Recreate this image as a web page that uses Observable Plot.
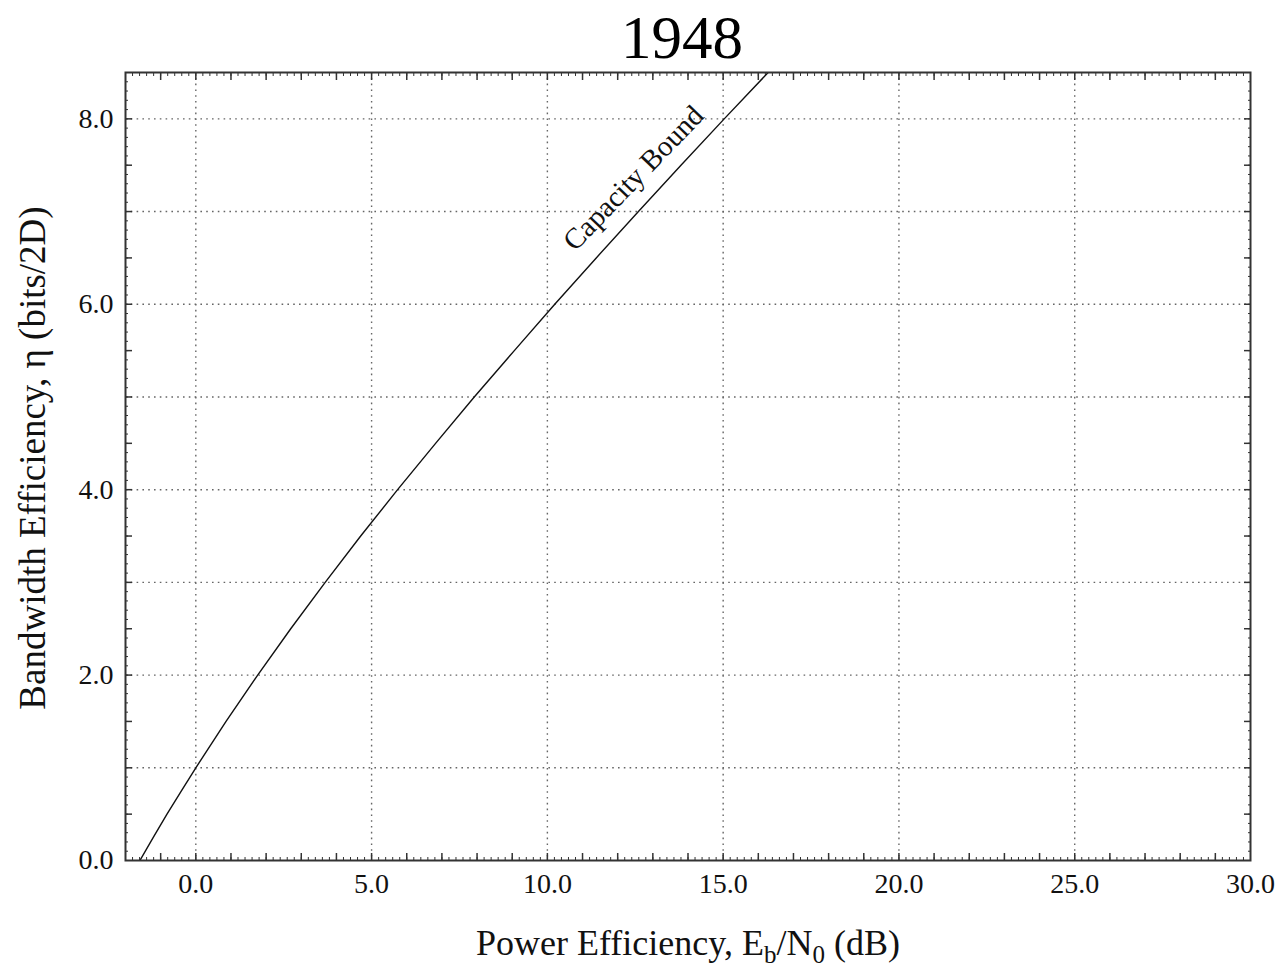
<!DOCTYPE html>
<html>
<head>
<meta charset="utf-8">
<script src="https://cdn.jsdelivr.net/npm/d3@7"></script>
<script src="https://cdn.jsdelivr.net/npm/@observablehq/plot@0.6"></script>
<style>
  html, body { margin: 0; padding: 0; background: #fff; }
  svg { display: block; }
</style>
</head>
<body>
<div id="chart"></div>
<script>
// Capacity bound: spectral efficiency (bits/2D) vs Eb/N0 (dB)
const etaValues = [0, 0.25, 0.5, 0.75, 1, 1.5, 2, 2.5, 3, 3.5, 4, 4.5, 5, 5.5, 6, 6.5, 7, 7.5, 8, 8.5];
const ebn0Values = [-1.59, -1.21, -0.82, -0.41, 0, 0.86, 1.76, 2.70, 3.68, 4.69, 5.74, 6.82, 7.92, 9.06, 10.21, 11.39, 12.59, 13.80, 15.03, 16.28];

const xLabelTicks = [0, 5, 10, 15, 20, 25, 30];
const yLabelTicks = [0, 2, 4, 6, 8];
const xGridTicks = [0, 5, 10, 15, 20, 25];
const yGridTicks = [1, 2, 3, 4, 5, 6, 7, 8];
const xMajorTicks = d3.range(-1, 30, 1);
const yMajorTicks = d3.range(0.5, 8.5, 0.5);
const xMinorTicks = d3.range(-1.8, 30, 0.2).map(v => +v.toFixed(1));
const yMinorTicks = d3.range(0.1, 8.5, 0.1).map(v => +v.toFixed(1));

const titleText = "1948";
const curveLabel = "Capacity Bound";
const curveLabelPos = [{x: 12.45, y: 7.36}];

const curve = etaValues.map((eta, i) => ({x: ebn0Values[i], y: eta}));

const W = 1279, H = 968;
const mL = 125, mR = 29, mT = 72, mB = 108;

const serif = "Liberation Serif, Times New Roman, serif";
const gridStyle = {stroke: "#666", strokeWidth: 1.4, strokeDasharray: "1.6,4.2", strokeOpacity: 1};
const tickStroke = "#333";

const plot = Plot.plot({
  width: W,
  height: H,
  marginLeft: mL,
  marginRight: mR,
  marginTop: mT,
  marginBottom: mB,
  style: {fontFamily: serif, background: "#fff", color: "#111"},
  x: {domain: [-2, 30]},
  y: {domain: [0, 8.5]},
  marks: [
    Plot.ruleX(xGridTicks, {x: d => d, ...gridStyle}),
    Plot.ruleY(yGridTicks, {y: d => d, ...gridStyle}),
    // inward ticks: bottom and top
    Plot.axisX({anchor: "bottom", ticks: xMajorTicks, tickSize: -7, tickFormat: () => "", stroke: tickStroke, strokeWidth: 1.5, label: null}),
    Plot.axisX({anchor: "top", ticks: xMajorTicks, tickSize: -7, tickFormat: () => "", stroke: tickStroke, strokeWidth: 1.5, label: null}),
    Plot.axisX({anchor: "bottom", ticks: xMinorTicks, tickSize: -3, tickFormat: () => "", stroke: tickStroke, strokeWidth: 1, label: null}),
    Plot.axisX({anchor: "top", ticks: xMinorTicks, tickSize: -3, tickFormat: () => "", stroke: tickStroke, strokeWidth: 1, label: null}),
    Plot.axisY({anchor: "left", ticks: yMajorTicks, tickSize: -7, tickFormat: () => "", stroke: tickStroke, strokeWidth: 1.5, label: null}),
    Plot.axisY({anchor: "right", ticks: yMajorTicks, tickSize: -7, tickFormat: () => "", stroke: tickStroke, strokeWidth: 1.5, label: null}),
    Plot.axisY({anchor: "left", ticks: yMinorTicks, tickSize: -3, tickFormat: () => "", stroke: tickStroke, strokeWidth: 1, label: null}),
    Plot.axisY({anchor: "right", ticks: yMinorTicks, tickSize: -3, tickFormat: () => "", stroke: tickStroke, strokeWidth: 1, label: null}),
    // labels
    Plot.axisX({anchor: "bottom", ticks: xLabelTicks, tickSize: 0, tickPadding: 13, tickFormat: d3.format(".1f"), fontSize: 28, fill: "#111", label: null}),
    Plot.axisY({anchor: "left", ticks: yLabelTicks, tickSize: 0, tickPadding: 12, tickFormat: d3.format(".1f"), fontSize: 28, fill: "#111", label: null}),
    Plot.line(curve, {x: "x", y: "y", stroke: "#111", strokeWidth: 1.4, clip: true}),
    Plot.text(curveLabelPos, {x: "x", y: "y", text: () => curveLabel, rotate: -46, fontSize: 29, fill: "#111"}),
    Plot.frame({stroke: "#333", strokeWidth: 2}),
    Plot.text([titleText], {frameAnchor: "top", text: d => d, lineAnchor: "bottom", dy: -15, dx: -6, fontSize: 61, fill: "#000"})
  ]
});

document.getElementById("chart").appendChild(plot);

// Axis titles with subscripts
const svg = d3.select(plot);
const xt = svg.append("text")
  .attr("x", 688).attr("y", 955)
  .attr("text-anchor", "middle")
  .attr("font-family", serif)
  .attr("font-size", 36)
  .attr("fill", "#111");
xt.append("tspan").text("Power Efficiency, E");
xt.append("tspan").attr("font-size", 25).attr("dy", 8).text("b");
xt.append("tspan").attr("dy", -8).text("/N");
xt.append("tspan").attr("font-size", 25).attr("dy", 8).text("0");
xt.append("tspan").attr("dy", -8).text(" (dB)");

svg.append("text")
  .attr("transform", "translate(45,458) rotate(-90)")
  .attr("text-anchor", "middle")
  .attr("font-family", serif)
  .attr("font-size", 37)
  .attr("fill", "#111")
  .text("Bandwidth Efficiency, η (bits/2D)");
</script>
</body>
</html>
